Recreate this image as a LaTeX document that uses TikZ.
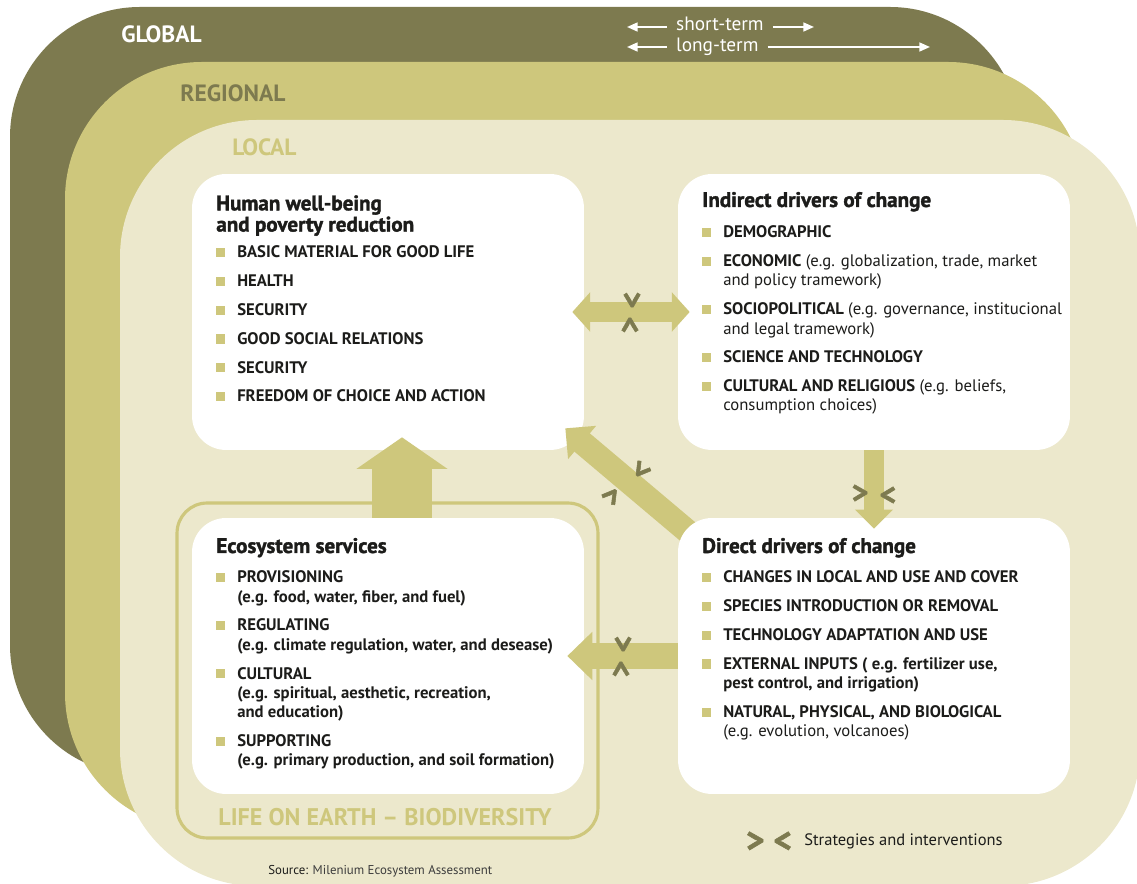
\documentclass[tikz,border=0pt]{standalone}
\usepackage{fontspec}
\setmainfont{PT Sans}
\newfontfamily\headfont{PT Sans}[BoldFeatures={FakeBold=1.6}]
\usetikzlibrary{arrows.meta, positioning, calc}

\definecolor{globalolive}{HTML}{7D7A4F}
\definecolor{regionolive}{HTML}{CEC77C}
\definecolor{localcream}{HTML}{ECE8CC}
\definecolor{inktext}{HTML}{1C1C1A}
\definecolor{sourcegray}{HTML}{3C3C3C}

\newcommand{\bsq}{\makebox[11.9pt][l]{\textcolor{regionolive}{\rule[0.4pt]{5.2pt}{5.2pt}}}}
\newcommand{\cont}{\hspace*{11.9pt}}
\newcommand{\plainpart}[1]{{\mdseries #1}}

\begin{document}
\begin{tikzpicture}[
    x=0.02cm, y=-0.02cm,
    scalebox/.style={
        rectangle,
        rounded corners=0.68cm,
        fill=white,
        minimum width=7.84cm,
        minimum height=5.52cm,
        inner sep=0pt
    },
    lifeframe/.style={
        rectangle,
        rounded corners=0.6cm,
        draw=regionolive,
        line width=1.8pt,
        minimum width=8.42cm,
        minimum height=6.7cm,
        inner sep=0pt
    },
    heading/.style={
        anchor=base west,
        inner sep=0pt,
        align=left,
        text=inktext,
        font=\headfont\bfseries\fontsize{12}{10.2}\selectfont
    },
    itemlist/.style={
        anchor=north west,
        inner sep=0pt,
        align=left,
        text=inktext,
        font=\bfseries\fontsize{9.5}{11}\selectfont
    },
    level/.style={
        anchor=base west,
        inner sep=0pt,
        font=\bfseries\fontsize{13.4}{13.4}\selectfont
    },
    flow/.style={
        draw=regionolive,
        line width=#1
    },
    chev/.style={
        inner sep=0pt,
        text=globalolive,
        font=\headfont\bfseries\fontsize{18}{18}\selectfont
    },
    termtext/.style={
        anchor=base west,
        inner xsep=5pt,
        inner ysep=0pt,
        text=white,
        font=\fontsize{11}{11}\selectfont
    },
    termarrow/.style={
        draw=white,
        line width=1.1pt,
        -{Triangle[width=5pt,length=6pt]}
    }
]
    \useasboundingbox (0,0) rectangle (1137,884);
    \clip (0,0) rectangle (1137,884);

    % NESTED SCALES
    \fill[globalolive, rounded corners=2.6cm] (10,7) rectangle (1020,775);
    \fill[regionolive, rounded corners=2.74cm] (65,62) rectangle (1085,830);
    \fill[localcream, rounded corners=2.74cm] (120,120) rectangle (1140,886);

    \node[level, text=white] (global) at (121,43) {GLOBAL};
    \node[level, text=globalolive] (regional) at (180,102) {REGIONAL};
    \node[level, text=regionolive] (local) at (232,156) {LOCAL};

    % TIME SCALE LEGEND
    \node[termtext] (shortterm) at (667,31) {short-term};
    \node[termtext] (longterm) at (667,52) {long-term};
    \coordinate (stleft) at (627,27);
    \coordinate (stright) at (814,27);
    \coordinate (ltleft) at (627,47);
    \coordinate (ltright) at (930,47);
    \draw[termarrow] (shortterm.west |- stleft) -- (stleft);
    \draw[termarrow] (shortterm.east |- stright) -- (stright);
    \draw[termarrow] (longterm.west |- ltleft) -- (ltleft);
    \draw[termarrow] (longterm.east |- ltright) -- (ltright);

    % BOXES
    \node[lifeframe] (life) at (387.5,670.5) {};
    \node[font=\bfseries\fontsize{13.7}{13.7}\selectfont, text=regionolive, anchor=base, inner sep=0pt] (lifelabel) at (385,826) {LIFE ON EARTH – BIODIVERSITY};

    \node[scalebox] (hw) at (388,312) {};
    \node[scalebox] (id) at (874,312) {};
    \node[scalebox] (es) at (388,656) {};

    % direct drivers -> well-being, tail hidden under the box
    \coordinate (ddtail) at (712,552);
    \draw[flow=13.6pt, -{Triangle[width=24pt,length=12.5pt]}] (ddtail) -- ($(hw.south east)+(-19,-22)$);
    \node[scalebox] (dd) at (874,656) {};

    % ARROWS
    \draw[flow=11.9pt, {Triangle[width=22pt,length=10.2pt]}-{Triangle[width=22pt,length=10.2pt]}]
        ($(hw.east)+(-12,0)$) -- ($(id.west)+(12,0)$);
    \draw[flow=11.3pt, -{Triangle[width=21pt,length=10.8pt]}] (id.south) -- ($(dd.north)+(0,11)$);
    \draw[flow=34pt, -{Triangle[width=51pt,length=18pt]}] ($(es.north)+(14,0)$) -- ($(hw.south)+(14,-13)$);
    \draw[flow=15.3pt, -{Triangle[width=26.6pt,length=14.2pt]}] (dd.west) -- ($(es.east)+(-17,0)$);

    % strategy marks
    \node[chev, rotate=-90] (mkidtop) at ($(hw.east)!0.5!(id.west)+(0,-12)$) {>};
    \node[chev, rotate=90] (mkidbot) at ($(hw.east)!0.5!(id.west)+(0,13)$) {>};
    \node[chev] (mkddleft) at ($(id.south)!0.5!(dd.north)+(-14,10)$) {>};
    \node[chev, rotate=180] (mkddright) at ($(id.south)!0.5!(dd.north)+(14,10)$) {>};
    \node[chev, rotate=-128] (mkdiagtop) at ($(hw.south east)+(56,19)$) {>};
    \node[chev, rotate=52] (mkdiagbot) at ($(hw.south east)+(28,46)$) {>};
    \node[chev, rotate=-90] (mkestop) at ($(es.east)!0.5!(dd.west)+(-9,-12)$) {>};
    \node[chev, rotate=90] (mkesbot) at ($(es.east)!0.5!(dd.west)+(-9,13)$) {>};

    % TEXTS
    \node[heading, anchor=north west] (hwhead) at (216,195) {Human well-being\\and poverty reduction};
    \node[itemlist] (hwlist) at (216,245.5) {%
        \bsq BASIC MATERIAL FOR GOOD LIFE\\[5.4pt]
        \bsq HEALTH\\[5.4pt]
        \bsq SECURITY\\[5.4pt]
        \bsq GOOD SOCIAL RELATIONS\\[5.4pt]
        \bsq SECURITY\\[5.4pt]
        \bsq FREEDOM OF CHOICE AND ACTION};

    \node[heading] (idhead) at (702,207) {Indirect drivers of change};
    \node[itemlist] (idlist) at (702,225.5) {%
        \bsq DEMOGRAPHIC\\[5.4pt]
        \bsq ECONOMIC \plainpart{(e.g. globalization, trade, market}\\
        \cont\plainpart{and policy tramework)}\\[5.4pt]
        \bsq SOCIOPOLITICAL \plainpart{(e.g. governance, institucional}\\
        \cont\plainpart{and legal tramework)}\\[5.4pt]
        \bsq SCIENCE AND TECHNOLOGY\\[5.4pt]
        \bsq CULTURAL AND RELIGIOUS \plainpart{(e.g. beliefs,}\\
        \cont\plainpart{consumption choices)}};

    \node[heading] (eshead) at (216,553) {Ecosystem services};
    \node[itemlist] (eslist) at (216,570.5) {%
        \bsq PROVISIONING\\
        \cont (e.g. food, water, fiber, and fuel)\\[5.4pt]
        \bsq REGULATING\\
        \cont (e.g. climate regulation, water, and desease)\\[5.4pt]
        \bsq CULTURAL\\
        \cont (e.g. spiritual, aesthetic, recreation,\\
        \cont and education)\\[5.4pt]
        \bsq SUPPORTING\\
        \cont (e.g. primary production, and soil formation)};

    \node[heading] (ddhead) at (702,553) {Direct drivers of change};
    \node[itemlist] (ddlist) at (702,570.5) {%
        \bsq CHANGES IN LOCAL AND USE AND COVER\\[5.4pt]
        \bsq SPECIES INTRODUCTION OR REMOVAL\\[5.4pt]
        \bsq TECHNOLOGY ADAPTATION AND USE\\[5.4pt]
        \bsq EXTERNAL INPUTS ( e.g. fertilizer use,\\
        \cont pest control, and irrigation)\\[5.4pt]
        \bsq NATURAL, PHYSICAL, AND BIOLOGICAL\\
        \cont\plainpart{(e.g. evolution, volcanoes)}};

    % LEGEND AND SOURCE
    \node[chev, font=\headfont\bfseries\fontsize{20}{20}\selectfont] (legsym) at (769,842) {> <};
    \node[anchor=base west, inner sep=0pt, text=inktext, font=\fontsize{9.4}{9.4}\selectfont] (legtext) at (804,846) {Strategies and interventions};
    \node[anchor=base west, inner sep=0pt, text=sourcegray, font=\fontsize{7.3}{7.3}\selectfont] (source) at (268,875) {\textcolor{inktext}{Source:} Milenium Ecosystem Assessment};
\end{tikzpicture}
\end{document}
